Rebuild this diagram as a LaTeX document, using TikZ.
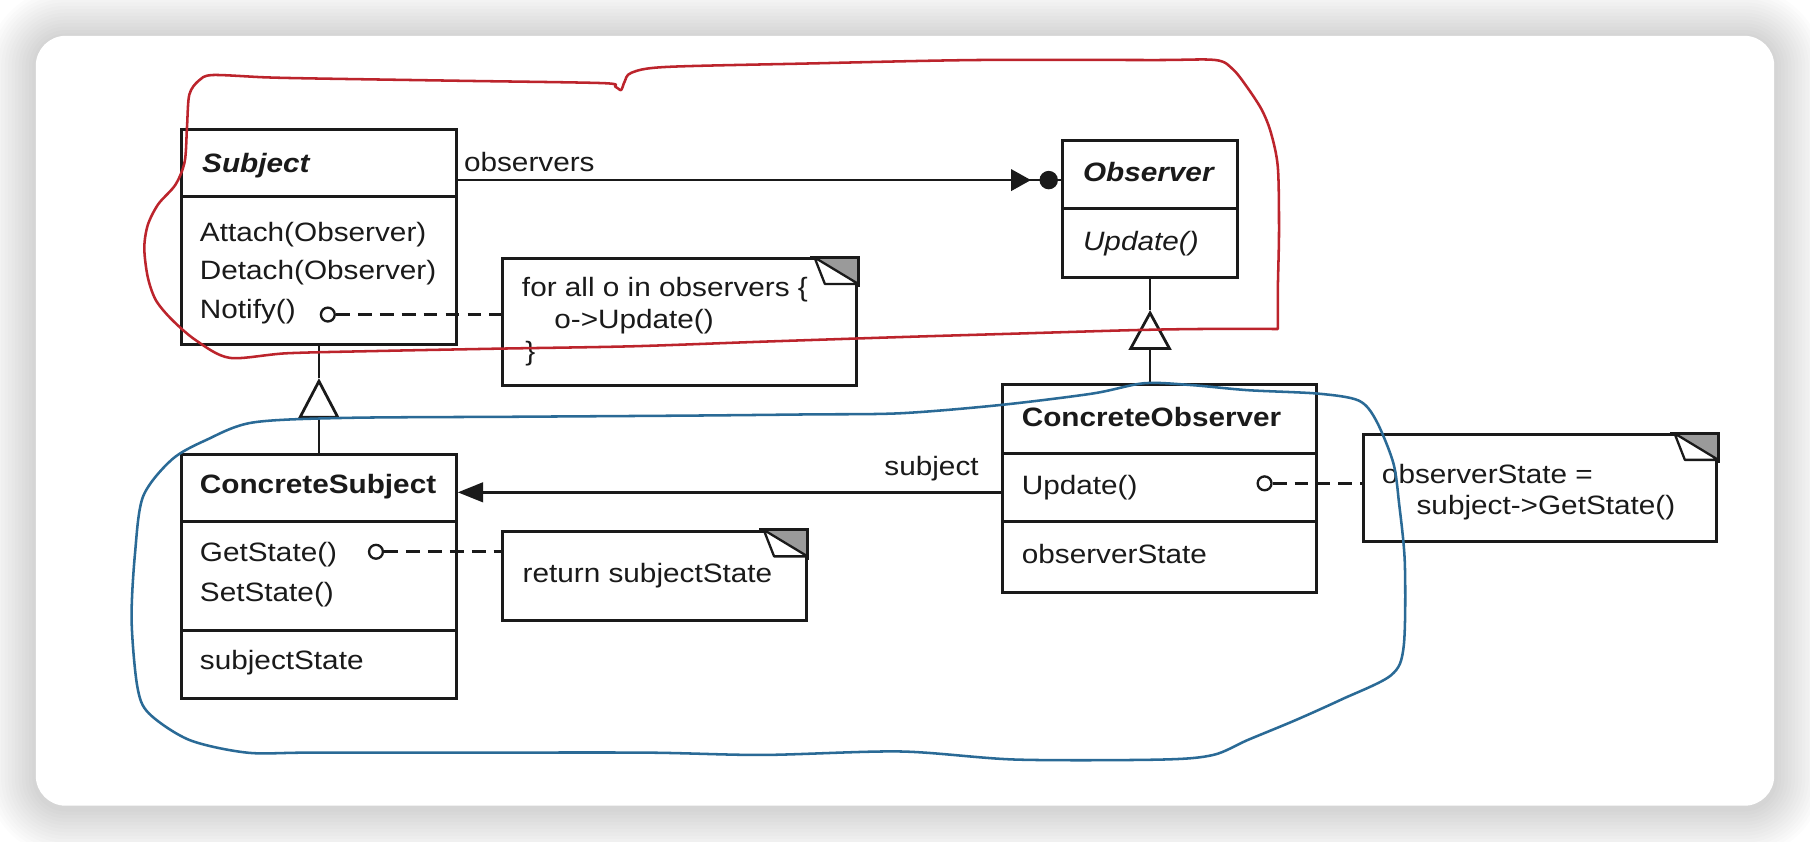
\documentclass[tikz,border=0pt]{standalone}
\usepackage{fontspec}
\setmainfont{Liberation Sans}[FakeStretch=1.12]
\usetikzlibrary{arrows.meta,calc}
\definecolor{ink}{HTML}{1A1A1A}
\definecolor{redpen}{HTML}{BC242C}
\definecolor{bluepen}{HTML}{2A6A96}
\definecolor{eargray}{HTML}{9A9A9A}

% folded corner of a note box
\newcommand\noteear[1]{%
  \fill[eargray] (#1.north east) -- ++(-38,0) -- ++(38,23) -- cycle;
  \filldraw[fill=white, draw=ink, line width=2pt, line join=round]
    ($(#1.north east)+(-38,0)$) -- ++(9,23) -- ++(29,0) -- cycle;
  \draw[ink, line width=2.6pt] ($(#1.north east)+(-42,0)$) -- (#1.north east) -- ++(0,26);
}

\begin{document}
\begin{tikzpicture}[x=1pt,y=-1pt,
  umlbox/.style={draw=ink, line width=2.6pt, fill=white, anchor=north west, inner sep=0pt},
  txt/.style={anchor=base west, inner sep=0pt, text=ink, font=\fontsize{23}{27}\selectfont},
  sep/.style={draw=ink, line width=2.6pt},
  conn/.style={draw=ink, line width=2.4pt},
  notelink/.style={draw=ink, line width=2.4pt, dash pattern=on 12pt off 7pt},
  port/.style={circle, draw=ink, line width=2pt, fill=white, minimum size=12pt, inner sep=0pt},
  pen/.style={line width=2.2pt, line join=round, line cap=round},
]
\useasboundingbox (0,0) rectangle (1568,729);
\fill[white] (0,0) rectangle (1568,729);

% card with soft shadow
\foreach \i [evaluate=\i as \d using \i*3, evaluate=\i as \r using 26+\i*3] in {1,...,14}
  \fill[black, opacity=0.010, rounded corners=\r] (31-\d,32-\d) rectangle (1537+\d,700+\d);
\fill[white, rounded corners=26] (31,31) rectangle (1537,698);

% classes
\node[umlbox, minimum width=238, minimum height=186] (subj) at (156,111) {};
\draw[sep] (156,170.5) -- (394,170.5);
\node[umlbox, minimum width=152, minimum height=118.4] (obs) at (919,120.6) {};
\draw[sep] (919,180.5) -- (1071,180.5);
\node[umlbox, minimum width=238, minimum height=211.4] (csubj) at (156,392.6) {};
\draw[sep] (156,452) -- (394,452);
\draw[sep] (156,545.8) -- (394,545.8);
\node[umlbox, minimum width=271.5, minimum height=179.7] (cobs) at (867.5,332) {};
\draw[sep] (867.5,392.6) -- (1139,392.6);
\draw[sep] (867.5,452) -- (1139,452);

% notes
\node[umlbox, minimum width=307, minimum height=110] (n1) at (434,223) {};
\node[umlbox, minimum width=263, minimum height=77.5] (n2) at (434,459) {};
\node[umlbox, minimum width=306.5, minimum height=92.4] (n3) at (1179.5,375.4) {};
\noteear{n1}
\noteear{n2}
\noteear{n3}

% class texts
\node[txt] (tSubj) at (175,149) {\bfseries\itshape Subject};
\node[txt] (tAttach) at (173,209) {Attach(Observer)};
\node[txt] (tDetach) at (173,242.5) {Detach(Observer)};
\node[txt] (tNotify) at (173,276) {Notify()};
\node[txt] (tObs) at (938,157.4) {\bfseries\itshape Observer};
\node[txt] (tUpd) at (938,216.6) {\itshape Update()};
\node[txt] (tCSubj) at (173,427.4) {\bfseries ConcreteSubject};
\node[txt] (tGet) at (173,486.6) {GetState()};
\node[txt] (tSet) at (173,521.2) {SetState()};
\node[txt] (tSState) at (173,580.4) {subjectState};
\node[txt] (tCObs) at (885,369.5) {\bfseries ConcreteObserver};
\node[txt] (tCUpd) at (885,428.8) {Update()};
\node[txt] (tOState) at (885,487.9) {observerState};

% note texts
\node[txt] (n1a) at (452,257) {for all o in observers \{};
\node[txt] (n1b) at (480,284.5) {o->Update()};
\node[txt] (n1c) at (455,312) {\}};
\node[txt] (n2a) at (452.6,504.8) {return subjectState};
\node[txt] (n3a) at (1197,418.7) {observerState =};
\node[txt] (n3b) at (1227,446) {subject->GetState()};

% association labels
\node[txt] (lObservers) at (401.8,148.7) {observers};
\node[txt, anchor=base east] (lSubject) at (848,411.5) {subject};

% note links
\node[port] (p1) at (284,272.5) {};
\node[port] (p2) at (325.7,478) {};
\node[port] (p3) at (1095.5,418.7) {};
\draw[notelink] (p1.east) -- (p1.east -| n1.west);
\draw[notelink] (p2.east) -- (p2.east -| n2.west);
\draw[notelink] (p3.east) -- (p3.east -| n3.west);

% observers association (many)
\coordinate (yObsLine) at (0,156);
\draw[conn] (subj.east |- yObsLine) -- (obs.west |- yObsLine);
\fill[ink] ($(obs.west |- yObsLine)+(-43,-9.5)$) -- ++(17,9.5) -- ++(-17,9.5) -- cycle;
\fill[ink] ($(obs.west |- yObsLine)+(-10.5,0)$) circle (8);

% subject association
\coordinate (ySubLine) at (0,426.5);
\draw[conn, -{Triangle[length=22pt,width=17pt]}] (cobs.west |- ySubLine) -- (csubj.east |- ySubLine);

% generalizations
\coordinate (apexO) at ($(obs.south)+(0,27)$);
\draw[conn] (obs.south) -- (apexO);
\draw[conn, -{Triangle[open,length=34.5pt,width=37pt]}] (apexO |- cobs.north) -- (apexO);
\coordinate (apexS) at ($(subj.south)+(0,28)$);
\draw[conn] (subj.south) -- (apexS);
\draw[conn, -{Triangle[open,length=35pt,width=36pt]}] (csubj.north) -- (apexS);

% freehand outlines
\draw[pen, redpen] plot[smooth, tension=0.5] coordinates {
  (1107,285) (1040,285) (981,286) (880,289) (780,292) (660,296) (547,300)
  (433,302) (330,304) (249,306) (199,310) (170,295) (149,277) (135,260)
  (128,240) (125,215) (128,195) (137,177) (152,160) (160,140) (162,110)
  (164,82) (172,70) (184,65) (230,67) (274,68) (400,70) (522,72) (533,75)
  (538,78) (541,71) (547,63) (577,58) (700,55) (845,52) (1000,52) (1053,52)
  (1068,60) (1080,75) (1093,95) (1101,115) (1107,145) (1108,200) (1107,250)
  (1107,285)};
\draw[pen, bluepen] plot[smooth cycle, tension=0.5] coordinates {
  (219,366) (300,362) (450,361) (600,360) (700,359) (780,358) (865,351)
  (946,341) (991,332) (1031,333.5) (1081,338) (1142,341) (1177,347)
  (1192,364) (1207,401) (1212,436) (1217,488) (1216,560) (1205,585)
  (1162,606) (1122,624) (1081,641) (1051,654) (1006,658) (880,658)
  (780,651) (661,654) (560,652) (400,652) (268,652) (214,652) (164,641)
  (129,618) (119,595) (114,537) (117,479) (124,430) (149,398) (179,381)};
\end{tikzpicture}
\end{document}
